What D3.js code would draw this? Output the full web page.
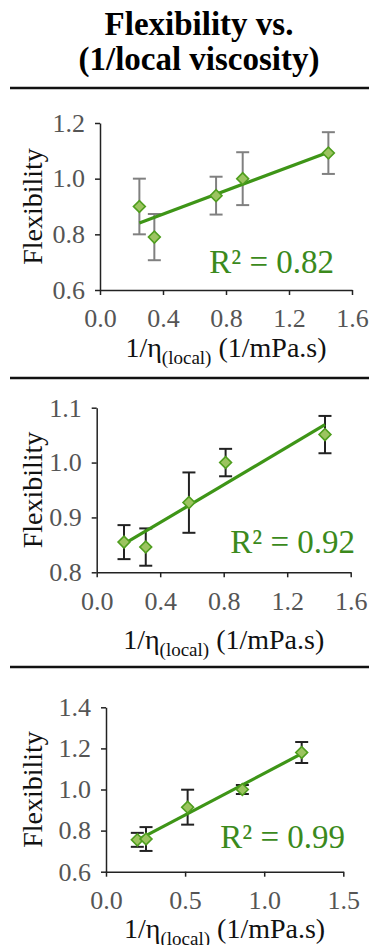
<!DOCTYPE html>
<html>
<head>
<meta charset="utf-8">
<script src="https://cdn.jsdelivr.net/npm/d3@7.9.0/dist/d3.min.js"></script>
<style>
  body { margin: 0; background: #fff; }
  svg { display: block; }
</style>
</head>
<body>
<div id="chart"></div>
<script>
// panel 1
const x1 = [0.25, 0.345, 0.737, 0.906, 1.45];
const y1 = [0.90, 0.79, 0.939, 1.00, 1.092];
const err1 = [0.10, 0.083, 0.068, 0.095, 0.075];
const yTicks1 = [0.6, 0.8, 1.0, 1.2];
const xTicks1 = [0.0, 0.4, 0.8, 1.2, 1.6];

// panel 2
const x2 = [0.172, 0.309, 0.581, 0.812, 1.438];
const y2 = [0.855, 0.846, 0.927, 1.00, 1.051];
const err2 = [0.031, 0.034, 0.055, 0.025, 0.034];
const yTicks2 = [0.8, 0.9, 1.0, 1.1];
const xTicks2 = [0.0, 0.4, 0.8, 1.2, 1.6];

// panel 3
const x3 = [0.198, 0.253, 0.516, 0.862, 1.237];
const y3 = [0.755, 0.759, 0.914, 1.00, 1.18];
const err3 = [0.034, 0.058, 0.085, 0.022, 0.051];
const yTicks3 = [0.6, 0.8, 1.0, 1.2, 1.4];
const xTicks3 = [0.0, 0.5, 1.0, 1.5];

const r2Labels = ['R² = 0.82', 'R² = 0.92', 'R² = 0.99'];

const width = 369, height = 945;
const green = '#3e9517';
const textGreen = '#3b8a1c';
const serif = '"Liberation Serif"';

const svg = d3.select('#chart').append('svg')
  .attr('width', width)
  .attr('height', height);

// title
svg.append('text')
  .attr('x', 199).attr('y', 35)
  .attr('text-anchor', 'middle')
  .attr('font-size', 33).attr('font-weight', 'bold')
  .text('Flexibility vs.');
svg.append('text')
  .attr('x', 199).attr('y', 70)
  .attr('text-anchor', 'middle')
  .attr('font-size', 33).attr('font-weight', 'bold')
  .text('(1/local viscosity)');

// separators
[88, 378, 667].forEach(y => {
  svg.append('line')
    .attr('x1', 10).attr('x2', width)
    .attr('y1', y).attr('y2', y)
    .attr('stroke', '#111').attr('stroke-width', 2.5);
});

function fit(xs, ys) {
  const mx = d3.mean(xs), my = d3.mean(ys);
  const sxy = d3.sum(xs, (x, i) => (x - mx) * (ys[i] - my));
  const sxx = d3.sum(xs, x => (x - mx) ** 2);
  const slope = sxy / sxx;
  return x => my + slope * (x - mx);
}

function drawPanel(p) {
  const xScale = d3.scaleLinear().domain(p.xDomain).range([p.left, p.right]);
  const yScale = d3.scaleLinear().domain(p.yDomain).range([p.bottom, p.top]);
  const g = svg.append('g');

  // y axis
  const yAxis = g.append('g')
    .attr('transform', `translate(${p.left},0)`)
    .call(d3.axisLeft(yScale).tickValues(p.yTicks).tickFormat(d3.format('.1f'))
      .tickSize(5).tickSizeOuter(0).tickPadding(10));
  // x axis
  const xAxis = g.append('g')
    .attr('transform', `translate(0,${p.bottom})`)
    .call(d3.axisBottom(xScale).tickValues(p.xTicks).tickFormat(d3.format('.1f'))
      .tickSize(5).tickSizeOuter(0).tickPadding(14));

  [yAxis, xAxis].forEach(a => {
    a.select('.domain').attr('stroke', '#222').attr('stroke-width', 1.5);
    a.selectAll('.tick line').attr('stroke', '#222').attr('stroke-width', 1.5);
    a.selectAll('.tick text')
      .attr('fill', '#555')
      .attr('font-size', 26);
  });

  // axis titles
  g.append('text')
    .attr('transform', `translate(${p.yLabelX},${(p.top + p.bottom) / 2}) rotate(-90)`)
    .attr('text-anchor', 'middle')
    .attr('font-size', 28)
    .attr('fill', '#111')
    .text('Flexibility');

  const xl = g.append('text')
    .attr('x', (p.left + p.right) / 2)
    .attr('y', p.xLabelY)
    .attr('text-anchor', 'middle')
    .attr('font-size', 28)
    .attr('fill', '#111');
  xl.append('tspan').text('1/η');
  xl.append('tspan').attr('font-size', 19).attr('dy', 7).text('(local)');
  xl.append('tspan').attr('dy', -7).text(' (1/mPa.s)');

  const pts = p.xs.map((x, i) => ({ x, y: p.ys[i], e: p.errs[i] }));

  // error bars
  const eb = g.append('g')
    .attr('stroke', p.errColor)
    .attr('stroke-width', 2);
  eb.selectAll('line.v').data(pts).join('line')
    .attr('class', 'v')
    .attr('x1', d => xScale(d.x)).attr('x2', d => xScale(d.x))
    .attr('y1', d => yScale(d.y - d.e)).attr('y2', d => yScale(d.y + d.e));
  eb.selectAll('line.top').data(pts).join('line')
    .attr('class', 'top')
    .attr('x1', d => xScale(d.x) - 6.5).attr('x2', d => xScale(d.x) + 6.5)
    .attr('y1', d => yScale(d.y + d.e)).attr('y2', d => yScale(d.y + d.e));
  eb.selectAll('line.bot').data(pts).join('line')
    .attr('class', 'bot')
    .attr('x1', d => xScale(d.x) - 6.5).attr('x2', d => xScale(d.x) + 6.5)
    .attr('y1', d => yScale(d.y - d.e)).attr('y2', d => yScale(d.y - d.e));

  // trendline
  const f = fit(p.xs, p.ys);
  const [xmin, xmax] = d3.extent(p.xs);
  g.append('line')
    .attr('x1', xScale(xmin)).attr('y1', yScale(f(xmin)))
    .attr('x2', xScale(xmax)).attr('y2', yScale(f(xmax)))
    .attr('stroke', green)
    .attr('stroke-width', 3.2);

  // markers
  const diamond = d3.symbol().type(d3.symbolSquare).size(70);
  g.append('g').selectAll('path').data(pts).join('path')
    .attr('d', diamond)
    .attr('transform', d => `translate(${xScale(d.x)},${yScale(d.y)}) rotate(45)`)
    .attr('fill', '#9cc460')
    .attr('stroke', '#4f9e1e')
    .attr('stroke-width', 1.6);

  // R² label
  g.append('text')
    .attr('x', p.r2X).attr('y', p.r2Y)
    .attr('text-anchor', 'end')
    .attr('font-size', 33)
    .attr('fill', textGreen)
    .text(p.r2);
}

drawPanel({
  xs: x1, ys: y1, errs: err1, xTicks: xTicks1, yTicks: yTicks1,
  xDomain: [0, 1.6], yDomain: [0.6, 1.2],
  left: 100, right: 352, top: 123, bottom: 290,
  yLabelX: 42, xLabelY: 357, errColor: '#808080',
  r2: r2Labels[0], r2X: 334, r2Y: 273
});

drawPanel({
  xs: x2, ys: y2, errs: err2, xTicks: xTicks2, yTicks: yTicks2,
  xDomain: [0, 1.6], yDomain: [0.8, 1.1],
  left: 96.7, right: 350.7, top: 407.7, bottom: 572.3,
  yLabelX: 42, xLabelY: 649, errColor: '#222',
  r2: r2Labels[1], r2X: 355, r2Y: 553
});

drawPanel({
  xs: x3, ys: y3, errs: err3, xTicks: xTicks3, yTicks: yTicks3,
  xDomain: [0, 1.5], yDomain: [0.6, 1.4],
  left: 106, right: 343.3, top: 707.3, bottom: 871.7,
  yLabelX: 42, xLabelY: 938, errColor: '#222',
  r2: r2Labels[2], r2X: 345, r2Y: 848
});

// serif everywhere (inline style wins over the axis font-family attribute)
svg.selectAll('text').style('font-family', serif);
</script>
</body>
</html>
